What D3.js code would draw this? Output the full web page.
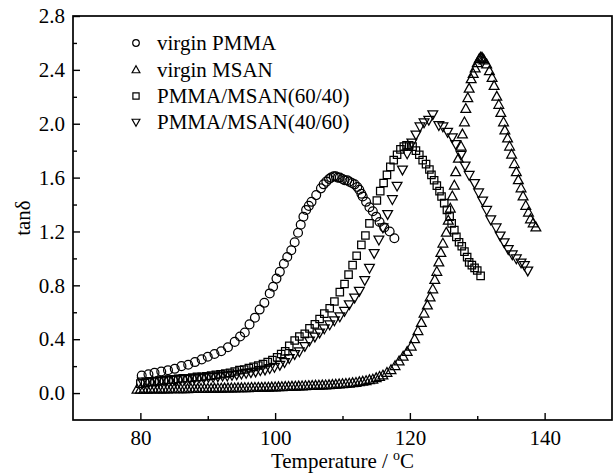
<!DOCTYPE html>
<html><head><meta charset="utf-8">
<script src="https://cdn.jsdelivr.net/npm/d3@7"></script>
<style>html,body{margin:0;padding:0;background:#fff}</style>
</head><body>
<svg id="chart" width="615" height="474"></svg>
<script>
const xTickValues = [80, 100, 120, 140];
const xMinorTicks = [90, 110, 130];
const yTickValues = [0.0, 0.4, 0.8, 1.2, 1.6, 2.0, 2.4, 2.8];
const yMinorTicks = [0.2, 0.6, 1.0, 1.4, 1.8, 2.2, 2.6];
const seriesNames = ["virgin PMMA", "virgin MSAN", "PMMA/MSAN(60/40)", "PMMA/MSAN(40/60)"];

// [temperature, tan delta]
const virginPMMA = [[80.2,0.13],[81.2,0.14],[82.1,0.15],[83.1,0.16],[84.1,0.17],[85.1,0.18],[86.1,0.20],[87.1,0.21],[88.1,0.23],[89.1,0.25],[90.0,0.27],[91.0,0.29],[92.0,0.31],[93.0,0.34],[94.0,0.38],[94.8,0.42],[95.5,0.45],[96.2,0.51],[97.0,0.56],[97.7,0.62],[98.4,0.67],[99.2,0.74],[99.7,0.79],[100.2,0.85],[100.7,0.90],[101.3,0.96],[101.8,1.01],[102.4,1.06],[102.9,1.12],[103.4,1.19],[103.8,1.25],[104.2,1.31],[104.6,1.36],[105.0,1.39],[105.4,1.42],[106.1,1.47],[106.8,1.52],[107.2,1.55],[107.6,1.57],[108.0,1.59],[108.3,1.60],[108.7,1.61],[109.0,1.61],[109.3,1.60],[109.6,1.60],[110.0,1.59],[110.3,1.58],[110.7,1.58],[111.0,1.57],[111.4,1.56],[111.8,1.55],[112.2,1.53],[112.5,1.51],[112.8,1.48],[113.0,1.46],[113.5,1.42],[114.0,1.38],[114.5,1.35],[115.0,1.31],[115.5,1.27],[116.2,1.23],[117.0,1.20],[117.7,1.15]];

const virginMSAN = [[79.5,0.025],[80.0,0.025],[80.5,0.025],[81.0,0.025],[81.5,0.026],[82.0,0.026],[82.5,0.026],[83.0,0.027],[83.5,0.027],[84.0,0.027],[84.5,0.028],[85.0,0.028],[85.5,0.028],[86.0,0.029],[86.5,0.029],[87.0,0.029],[87.5,0.030],[88.0,0.030],[88.5,0.030],[89.0,0.031],[89.5,0.031],[90.0,0.031],[90.5,0.032],[91.0,0.032],[91.5,0.033],[92.0,0.033],[92.5,0.034],[93.0,0.034],[93.5,0.035],[94.0,0.035],[94.5,0.036],[95.0,0.036],[95.5,0.037],[96.0,0.037],[96.5,0.038],[97.0,0.038],[97.5,0.039],[98.0,0.039],[98.5,0.040],[99.0,0.040],[99.5,0.041],[100.0,0.042],[100.5,0.043],[101.0,0.044],[101.5,0.045],[102.0,0.046],[102.5,0.047],[103.0,0.048],[103.5,0.049],[104.0,0.050],[104.5,0.051],[105.0,0.052],[105.5,0.053],[106.0,0.054],[106.5,0.055],[107.0,0.056],[107.5,0.057],[108.0,0.058],[108.5,0.060],[109.0,0.062],[109.5,0.064],[110.0,0.066],[110.5,0.068],[111.0,0.070],[111.5,0.073],[112.0,0.076],[112.5,0.080],[113.0,0.084],[113.5,0.089],[114.0,0.095],[114.5,0.100],[115.0,0.110],[115.5,0.120],[116.0,0.130],[116.6,0.150],[117.2,0.170],[117.8,0.200],[118.4,0.235],[119.0,0.270],[119.6,0.305],[120.2,0.345],[120.7,0.40],[121.2,0.46],[121.7,0.52],[122.1,0.59],[122.6,0.65],[123.0,0.71],[123.4,0.77],[123.7,0.84],[124.0,0.90],[124.3,0.97],[124.6,1.04],[124.9,1.11],[125.4,1.19],[125.7,1.28],[126.0,1.37],[126.3,1.46],[126.6,1.54],[126.8,1.64],[127.2,1.74],[127.6,1.83],[127.8,1.92],[128.1,2.01],[128.3,2.11],[128.6,2.19],[128.8,2.26],[129.1,2.33],[129.4,2.37],[129.7,2.41],[130.0,2.45],[130.3,2.48],[130.5,2.49],[130.7,2.49],[130.85,2.48],[131.0,2.47],[131.4,2.44],[131.8,2.39],[132.2,2.34],[132.5,2.28],[132.9,2.20],[133.2,2.14],[133.5,2.08],[133.9,2.01],[134.1,1.95],[134.5,1.89],[134.8,1.83],[135.1,1.77],[135.5,1.70],[135.8,1.64],[136.1,1.58],[136.5,1.52],[136.8,1.46],[137.2,1.39],[137.6,1.34],[137.9,1.29],[138.3,1.26],[138.7,1.23]];

const pmmaMsan6040 = [[80.0,0.070],[80.7,0.075],[81.4,0.080],[82.1,0.085],[82.8,0.090],[83.5,0.095],[84.2,0.100],[84.9,0.100],[85.6,0.105],[86.3,0.110],[87.0,0.110],[87.7,0.115],[88.4,0.120],[89.1,0.120],[89.8,0.125],[90.5,0.130],[91.2,0.135],[91.9,0.140],[92.6,0.145],[93.3,0.150],[94.0,0.160],[94.7,0.170],[95.4,0.175],[96.1,0.185],[96.8,0.195],[97.5,0.205],[98.2,0.215],[98.9,0.230],[99.6,0.245],[100.3,0.265],[100.9,0.29],[101.5,0.31],[102.1,0.35],[102.9,0.39],[103.6,0.42],[104.4,0.44],[105.1,0.48],[105.9,0.51],[106.6,0.55],[107.3,0.59],[108.1,0.63],[108.8,0.68],[109.6,0.75],[110.3,0.81],[110.9,0.88],[111.5,0.95],[112.1,1.02],[112.8,1.10],[113.4,1.17],[114.0,1.26],[115.1,1.43],[115.6,1.50],[116.1,1.56],[116.6,1.62],[117.1,1.68],[117.6,1.73],[118.1,1.77],[118.6,1.81],[119.1,1.83],[119.5,1.84],[119.9,1.84],[120.4,1.83],[120.9,1.80],[121.4,1.77],[121.9,1.73],[122.4,1.70],[122.9,1.66],[123.2,1.62],[123.6,1.58],[124.0,1.54],[124.4,1.50],[124.7,1.46],[125.1,1.41],[125.5,1.36],[125.9,1.31],[126.2,1.26],[126.6,1.21],[126.9,1.16],[127.3,1.12],[127.7,1.09],[128.1,1.05],[128.5,1.01],[128.8,0.97],[129.2,0.95],[129.6,0.93],[130.0,0.91],[130.5,0.87]];

const pmmaMsan4060 = [[80.3,0.085],[81.0,0.085],[81.7,0.090],[82.4,0.090],[83.1,0.095],[83.8,0.095],[84.5,0.100],[85.2,0.100],[85.9,0.105],[86.6,0.105],[87.3,0.110],[88.0,0.110],[88.7,0.115],[89.4,0.115],[90.1,0.120],[90.8,0.120],[91.5,0.125],[92.2,0.130],[92.9,0.130],[93.6,0.135],[94.3,0.140],[95.0,0.145],[95.7,0.150],[96.4,0.155],[97.1,0.160],[97.8,0.170],[98.5,0.175],[99.2,0.185],[99.9,0.195],[100.7,0.21],[101.4,0.23],[102.1,0.26],[102.9,0.29],[103.6,0.31],[104.4,0.35],[105.1,0.39],[105.9,0.42],[106.6,0.45],[107.3,0.48],[108.1,0.51],[108.8,0.54],[109.6,0.57],[110.3,0.61],[111.0,0.66],[111.8,0.71],[112.5,0.76],[113.3,0.84],[114.0,0.93],[114.7,1.04],[115.4,1.14],[116.0,1.23],[116.7,1.33],[117.4,1.44],[118.1,1.54],[118.9,1.66],[119.6,1.78],[120.3,1.86],[120.9,1.92],[121.5,1.98],[122.1,2.01],[122.8,2.03],[123.4,2.07],[124.3,1.99],[124.9,1.98],[125.6,1.94],[126.3,1.90],[126.8,1.85],[127.6,1.77],[128.2,1.69],[128.8,1.62],[129.6,1.56],[130.2,1.49],[130.8,1.43],[131.4,1.36],[132.0,1.29],[132.8,1.23],[133.4,1.17],[134.0,1.12],[134.6,1.07],[135.2,1.03],[135.8,1.00],[136.5,0.97],[137.0,0.95],[137.5,0.91]];

const svg = d3.select("#chart");
svg.append("rect").attr("width", 615).attr("height", 474).attr("fill", "#fff");

const L = 73, R = 612, T = 16, B = 420;
const x = d3.scaleLinear().domain([70, 150]).range([L, R]);
const y = d3.scaleLinear().domain([-0.2, 2.8]).range([B, T]);
const FONT = "'Liberation Serif','Times New Roman',Times,serif";

// axes
const xAxis = svg.append("g").attr("transform", `translate(0,${B})`)
  .call(d3.axisBottom(x).tickValues(xTickValues).tickSize(-7).tickPadding(10).tickFormat(d3.format("d")));
const xMinor = svg.append("g").attr("transform", `translate(0,${B})`)
  .call(d3.axisBottom(x).tickValues(xMinorTicks).tickSize(-4).tickFormat(""));
const yAxis = svg.append("g").attr("transform", `translate(${L},0)`)
  .call(d3.axisLeft(y).tickValues(yTickValues).tickSize(-7).tickPadding(8).tickFormat(d3.format(".1f")));
const yMinor = svg.append("g").attr("transform", `translate(${L},0)`)
  .call(d3.axisLeft(y).tickValues(yMinorTicks).tickSize(-4).tickFormat(""));
[xAxis, xMinor, yAxis, yMinor].forEach(g => {
  g.select(".domain").remove();
  g.selectAll("line").attr("stroke", "#000").attr("stroke-width", 1.4);
  g.selectAll("text").attr("font-family", FONT).attr("font-size", 21).attr("fill", "#000");
});

// frame
svg.append("rect").attr("x", L).attr("y", T).attr("width", R - L).attr("height", B - T)
  .attr("fill", "none").attr("stroke", "#000").attr("stroke-width", 1.7);

// axis titles
const xt = svg.append("text").attr("x", (L + R) / 2).attr("y", 468).attr("text-anchor", "middle")
  .attr("font-family", FONT).attr("font-size", 21).attr("fill", "#000");
xt.append("tspan").text("Temperature / ");
xt.append("tspan").attr("font-size", 14).attr("dy", -8).text("o");
xt.append("tspan").attr("dy", 8).text("C");

svg.append("text").attr("transform", `translate(30,${(T + B) / 2}) rotate(-90)`)
  .attr("text-anchor", "middle").attr("font-family", FONT).attr("font-size", 21).attr("fill", "#000")
  .text("tanδ");

// markers
const shapes = {
  circle: r => `M${r},0A${r},${r},0,1,1,${-r},0A${r},${r},0,1,1,${r},0Z`,
  square: s => `M${-s/2},${-s/2}H${s/2}V${s/2}H${-s/2}Z`,
  up: s => `M0,${-s*0.55}L${s/2},${s*0.35}L${-s/2},${s*0.35}Z`,
  down: s => `M0,${s*0.55}L${s/2},${-s*0.35}L${-s/2},${-s*0.35}Z`
};
const series = [
  {data: virginPMMA, shape: shapes.circle(4.4), legend: shapes.circle(3.3)},
  {data: virginMSAN, shape: shapes.up(9.8), legend: shapes.up(7.8)},
  {data: pmmaMsan6040, shape: shapes.square(7.4), legend: shapes.square(6.2)},
  {data: pmmaMsan4060, shape: shapes.down(9.8), legend: shapes.down(7.8)}
];

const plot = svg.append("g");
series.forEach(s => {
  plot.append("g").selectAll("path").data(s.data).join("path")
    .attr("transform", d => `translate(${x(d[0])},${y(d[1])})`)
    .attr("d", s.shape)
    .attr("fill", "none").attr("stroke", "#000").attr("stroke-width", 1.25);
});

// legend
const legendY = [43, 70, 96, 122];
const leg = svg.append("g");
seriesNames.forEach((name, i) => {
  leg.append("path").attr("transform", `translate(136,${legendY[i]})`).attr("d", series[i].legend)
    .attr("fill", "none").attr("stroke", "#000").attr("stroke-width", 1.2);
  leg.append("text").attr("x", 157).attr("y", legendY[i]).attr("dy", "0.35em")
    .attr("font-family", FONT).attr("font-size", 21).attr("fill", "#000").text(name);
});
</script>
</body></html>
